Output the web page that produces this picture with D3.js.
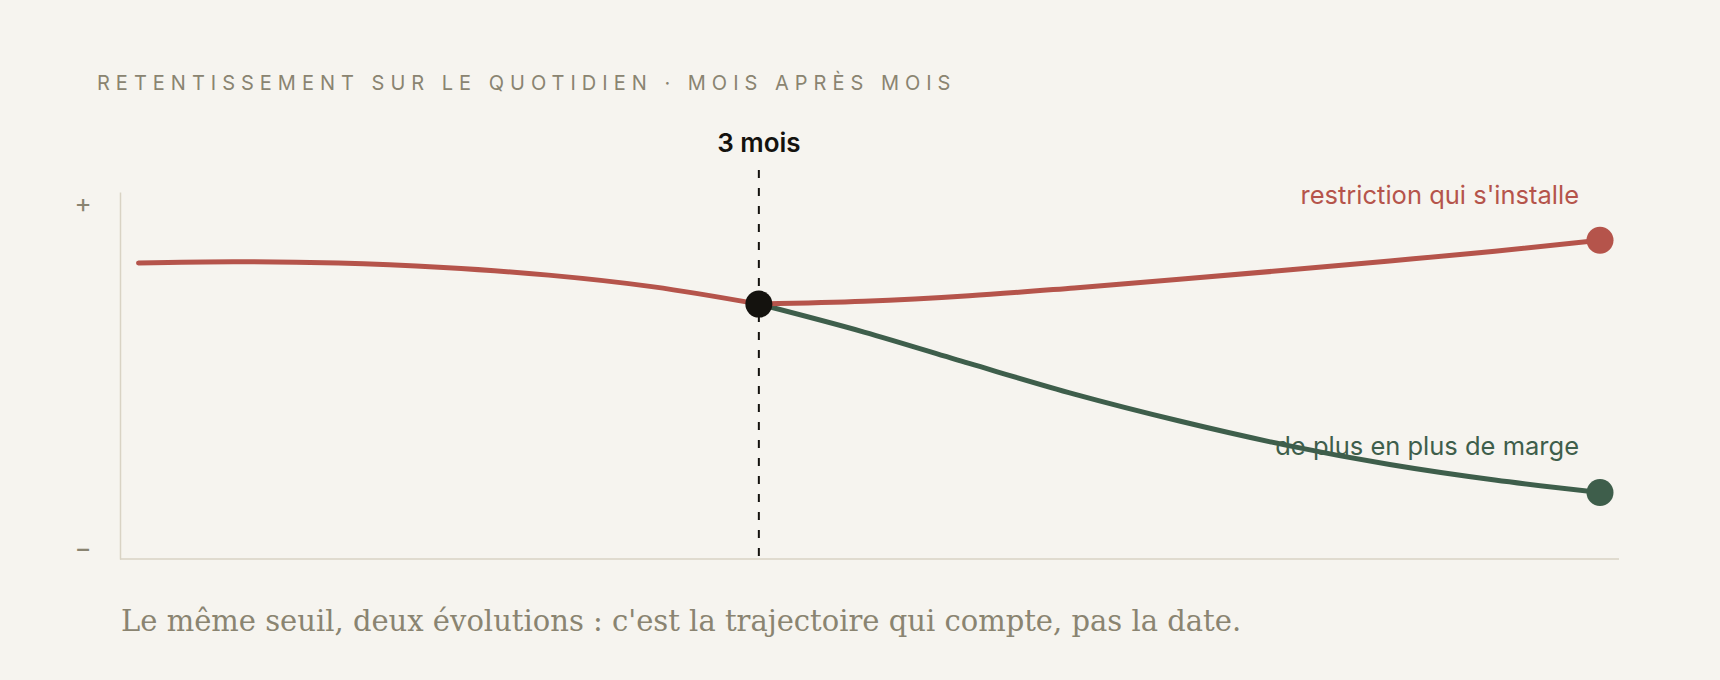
<!DOCTYPE html>
<html>
<head>
<meta charset="utf-8">
<script src="https://cdn.jsdelivr.net/npm/d3@7"></script>
<style>
  html, body { margin: 0; padding: 0; background: #f6f4ef; }
  svg { display: block; }
</style>
</head>
<body>
<div id="chart"></div>
<script>
// mois et niveaux de retentissement (unités arbitraires, 0 = "−", 100 = "+")
const monthsBefore = [0.05, 0.5, 1, 1.5, 2, 2.5, 3];
const sharedValues = [82.6, 83.0, 82.6, 81.3, 79.1, 75.7, 70.7];

const monthsAfter = [3, 3.5, 4, 4.5, 5, 5.5, 6, 6.5, 7];
const restrictionValues = [70.7, 71.5, 73.1, 75.4, 77.9, 80.5, 83.2, 86.0, 89.2];
const margeValues = [70.7, 62.6, 53.5, 44.6, 36.8, 29.9, 24.2, 19.7, 16.1];

const thresholdMonth = 3;
const thresholdLabel = "3 mois";
const yTickValues = [0, 100];
const yTickLabels = ["−", "+"];

const title = "RETENTISSEMENT SUR LE QUOTIDIEN · MOIS APRÈS MOIS";
const caption = "Le même seuil, deux évolutions : c'est la trajectoire qui compte, pas la date.";
const labelRestriction = "restriction qui s'installe";
const labelMarge = "de plus en plus de marge";

const width = 1720, height = 680;
const frame = { left: 120, right: 1619, top: 192, bottom: 559 };
const colors = { red: "#b5544b", green: "#3e5e4b", dot: "#14120e", axis: "#d9d3c4", muted: "#8a8471" };
const sans = "Inter, 'Noto Sans', sans-serif";

const svg = d3.select("#chart").append("svg")
    .attr("width", width)
    .attr("height", height);

const x = d3.scaleLinear().domain([0, 7]).range([128, 1600]);
const y = d3.scaleLinear().domain([-3.2, 103.2]).range([frame.bottom, frame.top]);

// titre
svg.append("text")
    .attr("x", 97)
    .attr("y", 90)
    .attr("font-family", sans)
    .attr("font-size", 20)
    .attr("letter-spacing", "6px")
    .attr("fill", colors.muted)
    .text(title);

// axe vertical
const yAxis = svg.append("g")
    .attr("transform", `translate(${frame.left},0)`)
    .call(d3.axisLeft(y).tickValues(yTickValues).tickSize(0).tickPadding(30)
        .tickFormat((d, i) => yTickLabels[i]));
yAxis.select(".domain").attr("stroke", colors.axis).attr("stroke-width", 1.5);
yAxis.selectAll("text")
    .attr("font-family", sans)
    .attr("font-size", 26)
    .attr("fill", colors.muted)
    .attr("text-anchor", "middle")
    .attr("x", -37);

// axe horizontal
svg.append("line")
    .attr("x1", frame.left)
    .attr("x2", frame.right)
    .attr("y1", frame.bottom)
    .attr("y2", frame.bottom)
    .attr("stroke", colors.axis)
    .attr("stroke-width", 1.5);

// seuil
svg.append("line")
    .attr("x1", x(thresholdMonth))
    .attr("x2", x(thresholdMonth))
    .attr("y1", 170)
    .attr("y2", frame.bottom)
    .attr("stroke", colors.dot)
    .attr("stroke-width", 2)
    .attr("stroke-dasharray", "8,10");

svg.append("text")
    .attr("x", x(thresholdMonth))
    .attr("y", 152)
    .attr("text-anchor", "middle")
    .attr("font-family", sans)
    .attr("font-size", 26)
    .attr("font-weight", 600)
    .attr("fill", colors.dot)
    .text(thresholdLabel);

// courbes
const line = d3.line()
    .x(d => x(d[0]))
    .y(d => y(d[1]))
    .curve(d3.curveMonotoneX);

const series = [
    { months: monthsAfter, values: margeValues, color: colors.green },
    { months: monthsAfter, values: restrictionValues, color: colors.red },
    { months: monthsBefore, values: sharedValues, color: colors.red }
];

svg.selectAll("path.serie")
    .data(series)
    .enter().append("path")
    .attr("class", "serie")
    .attr("d", s => line(d3.zip(s.months, s.values)))
    .attr("fill", "none")
    .attr("stroke", s => s.color)
    .attr("stroke-width", 5)
    .attr("stroke-linecap", "round");

// points d'arrivée
const ends = [
    { m: monthsAfter[monthsAfter.length - 1], v: restrictionValues[restrictionValues.length - 1], color: colors.red },
    { m: monthsAfter[monthsAfter.length - 1], v: margeValues[margeValues.length - 1], color: colors.green },
    { m: thresholdMonth, v: sharedValues[sharedValues.length - 1], color: colors.dot }
];

svg.selectAll("circle")
    .data(ends)
    .enter().append("circle")
    .attr("cx", d => x(d.m))
    .attr("cy", d => y(d.v))
    .attr("r", 13.5)
    .attr("fill", d => d.color);

// étiquettes
svg.append("text")
    .attr("x", 1579)
    .attr("y", 204)
    .attr("text-anchor", "end")
    .attr("font-family", sans)
    .attr("font-size", 25.5)
    .attr("fill", colors.red)
    .text(labelRestriction);

svg.append("text")
    .attr("x", 1579)
    .attr("y", 455)
    .attr("text-anchor", "end")
    .attr("font-family", sans)
    .attr("font-size", 25.5)
    .attr("fill", colors.green)
    .text(labelMarge);

// légende
svg.append("text")
    .attr("x", 121)
    .attr("y", 631)
    .attr("font-family", "'DejaVu Serif', Georgia, serif")
    .attr("font-size", 29)
    .attr("fill", colors.muted)
    .text(caption);
</script>
</body>
</html>
